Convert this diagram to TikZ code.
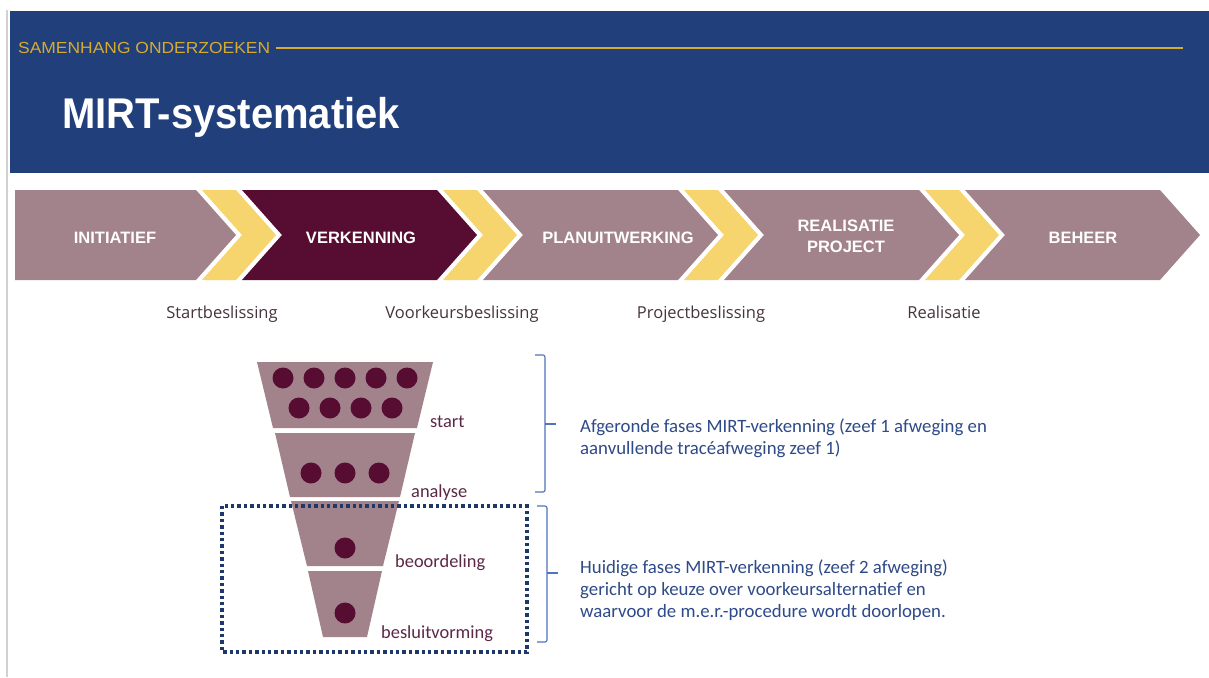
\documentclass[tikz,border=0pt]{standalone}
\usepackage{fontspec}
\setmainfont{Liberation Sans}
\newfontfamily\labfont{Open Sans}
\newfontfamily\calfont{Carlito}
\definecolor{hdrblue}{RGB}{33,63,123}
\definecolor{hdrgold}{RGB}{214,172,48}
\definecolor{mauve}{RGB}{162,131,140}
\definecolor{wine}{RGB}{86,13,49}
\definecolor{chevyellow}{RGB}{247,213,110}
\definecolor{lblgrey}{RGB}{70,52,62}
\definecolor{funlbl}{RGB}{92,40,70}
\definecolor{notetext}{RGB}{46,74,136}
\definecolor{bracecol}{RGB}{80,115,190}
\definecolor{boxnavy}{RGB}{31,56,108}
\begin{document}
\begin{tikzpicture}[x=1pt,y=-1pt,
  phaselbl/.style={text=white,font=\bfseries\fontsize{16.5}{18}\selectfont,inner sep=0,anchor=base},
  declbl/.style={text=lblgrey,font=\labfont\fontsize{16.5}{19}\selectfont,inner sep=0,anchor=base},
  funnellbl/.style={text=funlbl,font=\calfont\fontsize{18.4}{22}\selectfont,inner sep=0,anchor=base west},
  notelbl/.style={text=notetext,font=\calfont\fontsize{18.8}{22}\selectfont,inner sep=0,anchor=base west},
  brace/.style={draw=bracecol,line width=1.1pt,rounded corners=2pt},
  seed/.style={fill=wine}]
\useasboundingbox (0,0) rectangle (1209,677);
\fill[white] (0,0) rectangle (1209,677);

% page edge and header band
\draw[black!18,line width=2pt] (7,10) -- (7,677);
\fill[hdrblue] (10,11) rectangle (1209,173);
\node[text=hdrgold,inner sep=0,anchor=base west,font=\fontsize{16}{18}\selectfont] (section) at (18,54)
  {\scalebox{1.09}[1]{SAMENHANG ONDERZOEKEN}};
\coordinate (ruleend) at (1183,48);
\draw[hdrgold,line width=2.4pt] ([xshift=6pt]section.east |- ruleend) -- (ruleend);
\node[text=white,inner sep=0,anchor=base west,font=\bfseries\fontsize{43}{48}\selectfont] (title) at (62,128)
  {\scalebox{0.93}[1]{MIRT-systematiek}};

% phase arrows
\fill[mauve] (15,190) -- (196,190) -- (236,235) -- (196,280) -- (15,280) -- cycle;
\fill[wine]  (242,190) -- (437,190) -- (477,235) -- (437,280) -- (242,280) -- (282,235) -- cycle;
\fill[mauve] (483,190) -- (678,190) -- (718,235) -- (678,280) -- (483,280) -- (523,235) -- cycle;
\fill[mauve] (724,190) -- (919,190) -- (959,235) -- (919,280) -- (724,280) -- (764,235) -- cycle;
\fill[mauve] (965,190) -- (1160,190) -- (1200,235) -- (1160,280) -- (965,280) -- (1005,235) -- cycle;
% yellow decision chevrons
\foreach \r in {196,437,678,919}
  \fill[chevyellow] (\r+6,190) -- (\r+40,190) -- (\r+80,235) -- (\r+40,280) -- (\r+6,280) -- (\r+46,235) -- cycle;

\node[phaselbl] (initiatief) at (115,243) {INITIATIEF};
\node[phaselbl] (verkenning) at (361,243) {VERKENNING};
\node[phaselbl] (planuit) at (618,243) {PLANUITWERKING};
\node[phaselbl] (realisatie) at (846,231) {REALISATIE};
\node[phaselbl] (project) at (846,252) {PROJECT};
\node[phaselbl] (beheer) at (1083,243) {BEHEER};

% decision moments
\node[declbl] (startb) at (222,318) {Startbeslissing};
\node[declbl] (voorkeur) at (462,318) {Voorkeursbeslissing};
\node[declbl] (projectb) at (701,318) {Projectbeslissing};
\node[declbl] (realb) at (944,318) {Realisatie};

% funnel (centre x = 345, sides narrowing 0.24 per unit)
\fill[mauve] (257,362) -- (433,362) -- (417,428) -- (273,428) -- cycle;
\fill[mauve] (275,433) -- (415,433) -- (400,497) -- (290,497) -- cycle;
\fill[mauve] (291,501) -- (399,501) -- (383,566) -- (307,566) -- cycle;
\fill[mauve] (308,571) -- (382,571) -- (367,637) -- (323,637) -- cycle;

\foreach \x in {283,314,345,376,407} \fill[seed] (\x,378) circle (10.5);
\foreach \x in {299,330,361,392} \fill[seed] (\x,408) circle (10.5);
\foreach \x in {311,345,379} \fill[seed] (\x,473) circle (10.5);
\fill[seed] (345,548) circle (10.5);
\fill[seed] (345,613) circle (10.5);

\node[funnellbl] (start) at (430,427) {start};
\node[funnellbl] (analyse) at (411,497) {analyse};
\node[funnellbl] (beoordeling) at (395,567) {beoordeling};
\node[funnellbl] (besluit) at (381,638) {besluitvorming};

% dotted frame around the current phases
\draw[boxnavy,line width=3.4pt,dash pattern=on 3.4pt off 3pt] (222,506) rectangle (527,652);

% braces
\draw[brace] (535,355) -- (545,355) -- (545,492) -- (535,492);
\draw[brace] (545,424) -- (556,424);
\draw[brace] (537,506) -- (547,506) -- (547,642) -- (537,642);
\draw[brace] (547,573) -- (558,573);

% notes
\node[notelbl] (n1a) at (580,432) {Afgeronde fases MIRT-verkenning (zeef 1 afweging en};
\node[notelbl] (n1b) at (580,454) {aanvullende tracéafweging zeef 1)};
\node[notelbl] (n2a) at (580,573) {Huidige fases MIRT-verkenning (zeef 2 afweging)};
\node[notelbl] (n2b) at (580,595) {gericht op keuze over voorkeursalternatief en};
\node[notelbl] (n2c) at (580,617) {waarvoor de m.e.r.-procedure wordt doorlopen.};
\end{tikzpicture}
\end{document}
